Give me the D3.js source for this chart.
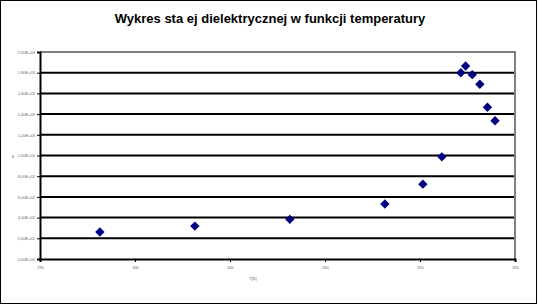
<!DOCTYPE html>
<html>
<head>
<meta charset="utf-8">
<script src="https://cdn.jsdelivr.net/npm/d3@7"></script>
<style>
  body { margin: 0; background: #fff; }
  svg { display: block; font-family: "Liberation Sans", Arial, sans-serif; }
</style>
</head>
<body>
<div id="chart"></div>
<script>
// temperature [K] and permittivity
const temps = [298.15, 303.15, 308.15, 313.15, 315.15, 316.15, 317.15, 317.4, 317.75, 318.15, 318.55, 318.95];
const eps   = [261, 318, 383, 532, 723, 987, 1800, 1865, 1781, 1688, 1466, 1336];
const xTicks = [295, 300, 305, 310, 315, 320];
const yTicks = [0, 200, 400, 600, 800, 1000, 1200, 1400, 1600, 1800, 2000];

const W = 539, H = 306;
const plotL = 40, plotR = 515, plotT = 52, plotB = 259;

var svg = d3.select("#chart").append("svg")
  .attr("width", W).attr("height", H);

// chart frame
svg.append("rect").attr("x", 0.5).attr("y", 0.5)
  .attr("width", W - 3).attr("height", H - 3)
  .attr("fill", "#fff").attr("stroke", "#000");

svg.append("text")
  .attr("x", 270).attr("y", 23)
  .attr("text-anchor", "middle")
  .attr("font-weight", "bold").attr("font-size", 13)
  .text("Wykres sta ej dielektrycznej w funkcji temperatury");

var x = d3.scaleLinear().domain([295, 320]).range([plotL, plotR]);
var y = d3.scaleLinear().domain([0, 2000]).range([plotB, plotT]);

// gridlines
svg.selectAll("line.grid").data(yTicks.slice(1, -1)).enter()
  .append("line").attr("class", "grid")
  .attr("x1", plotL).attr("x2", plotR)
  .attr("y1", d => y(d)).attr("y2", d => y(d))
  .attr("stroke", "#000").attr("stroke-width", 2);

// plot border (gray top/right)
svg.append("path")
  .attr("d", `M${plotL},${plotT}H${plotR}V${plotB}`)
  .attr("fill", "none").attr("stroke", "#808080").attr("stroke-width", 2);

var fmt = d => {
  var s = d3.format(".2e")(d).replace(".", ",").replace("e+", "E+");
  return s.replace(/E\+(\d)$/, "E+0$1");
};

var yAxis = svg.append("g")
  .attr("transform", `translate(${plotL},0)`)
  .call(d3.axisLeft(y).tickValues(yTicks).tickSize(3).tickPadding(2).tickFormat(fmt));
yAxis.select(".domain").attr("stroke-width", 2);
yAxis.selectAll(".tick line").attr("stroke-width", 1);
yAxis.selectAll("text").attr("font-size", 4).attr("fill", "#666");

var xAxis = svg.append("g")
  .attr("transform", `translate(0,${plotB})`)
  .call(d3.axisBottom(x).tickValues(xTicks).tickSize(3).tickPadding(4).tickFormat(d3.format("d")));
xAxis.select(".domain").attr("stroke-width", 2);
xAxis.selectAll("text").attr("font-size", 4).attr("fill", "#666");

svg.append("text").attr("x", 12).attr("y", 158)
  .attr("font-size", 5).attr("fill", "#666").text("ε");
svg.append("text").attr("x", 253).attr("y", 280)
  .attr("text-anchor", "middle")
  .attr("font-size", 4).attr("fill", "#666").text("T[K]");

// diamond markers: rotated squares
var diamond = d3.symbol().type(d3.symbolSquare).size(44);
svg.selectAll("path.pt").data(temps).enter()
  .append("path").attr("class", "pt")
  .attr("d", diamond)
  .attr("transform", (d, i) => `translate(${x(d)},${y(eps[i])}) rotate(45)`)
  .attr("fill", "#000080");
</script>
</body>
</html>
